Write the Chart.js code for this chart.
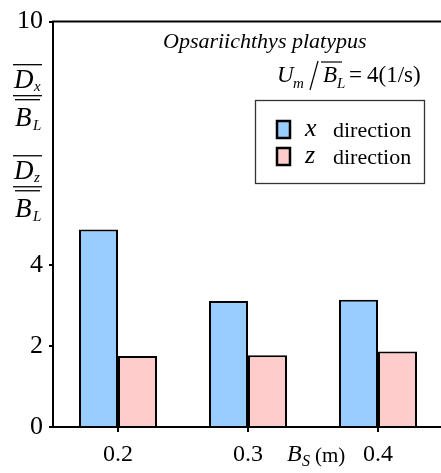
<!DOCTYPE html>
<html>
<head>
<meta charset="utf-8">
<script src="https://cdn.jsdelivr.net/npm/chart.js@4.4.0/dist/chart.umd.min.js"></script>
<style>
    html, body { margin: 0; padding: 0; background: #fff; overflow: hidden; }
    #wrap { width: 441px; height: 473px; overflow: hidden; }
</style>
</head>
<body>
<div id="wrap"><canvas id="grafico" width="443" height="473"></canvas></div>
<script>

// Datos
const categorias = ["0.2", "0.3", "0.4"];
const valoresX = [4.87, 3.11, 3.14];
const valoresZ = [1.75, 1.77, 1.86];
const etiquetasSerie = ["x", "z"];
const coloresSerie = ["#99ccff", "#ffcccc"];
const ticksY = [0, 2, 4, 10];   // 6 y 8 se sustituyen por las fracciones
const subFracciones = ["x", "z"];
const titulo = "Opsariichthys platypus";

const SERIF = '"Liberation Serif", "Times New Roman", serif';

function linea(ctx, x1, y1, x2, y2, ancho) {
    ctx.lineWidth = ancho;
    ctx.beginPath();
    ctx.moveTo(x1, y1);
    ctx.lineTo(x2, y2);
    ctx.stroke();
}

// D_sub sobre B_L, con barras encima
function fraccion(ctx, barY, sub) {
    ctx.font = "italic 27px " + SERIF;
    ctx.fillText("D", 14, barY - 8);
    ctx.font = "italic 15px " + SERIF;
    ctx.fillText(sub, 34, barY - 5);
    linea(ctx, 13, barY - 31, 42, barY - 31, 1.3);
    linea(ctx, 13, barY, 42, barY, 1.3);
    linea(ctx, 15, barY + 4, 40, barY + 4, 1.3);
    ctx.font = "italic 27px " + SERIF;
    ctx.fillText("B", 15, barY + 30);
    ctx.font = "italic 15px " + SERIF;
    ctx.fillText("L", 33, barY + 34);
}

const anotaciones = {
    id: "anotaciones",
    afterDraw(chart) {
        const ctx = chart.ctx;
        const area = chart.chartArea;
        const y = chart.scales.y;
        ctx.save();
        ctx.fillStyle = "#000";
        ctx.strokeStyle = "#000";
        ctx.textAlign = "left";
        ctx.textBaseline = "alphabetic";

        // borde superior
        linea(ctx, area.left - 1, area.top, chart.width, area.top, 2);

        // etiquetas del eje y en lugar de 8 y 6
        fraccion(ctx, y.getPixelForValue(8) - 7, subFracciones[0]);
        fraccion(ctx, y.getPixelForValue(6) + 3, subFracciones[1]);

        // titulo
        ctx.font = "italic 22px " + SERIF;
        ctx.fillText(titulo, 163, 48);

        // U_m / B_L = 4(1/s)
        ctx.font = "italic 23px " + SERIF;
        ctx.fillText("U", 277, 82);
        ctx.font = "italic 15px " + SERIF;
        ctx.fillText("m", 293, 88);
        linea(ctx, 318, 61, 310, 90, 1.2);
        linea(ctx, 321, 62, 342, 62, 1.2);
        ctx.font = "italic 23px " + SERIF;
        ctx.fillText("B", 323, 82);
        ctx.font = "italic 15px " + SERIF;
        ctx.fillText("L", 337, 88);
        ctx.font = "23px " + SERIF;
        ctx.fillText("=", 349, 82);
        ctx.fillText("4(1/s)", 367, 82);

        // leyenda
        ctx.strokeStyle = "#333";
        ctx.lineWidth = 1.3;
        ctx.strokeRect(255.5, 100.5, 169, 83);
        ctx.strokeStyle = "#000";
        chart.data.datasets.forEach((ds, i) => {
            const top = 121 + i * 27;
            ctx.fillStyle = ds.backgroundColor;
            ctx.fillRect(277, top, 13, 17);
            ctx.lineWidth = 2.5;
            ctx.strokeRect(277, top, 13, 17);
            ctx.fillStyle = "#000";
            ctx.font = "italic 26px " + SERIF;
            ctx.fillText(etiquetasSerie[i], 305, top + 15);
            ctx.font = "22px " + SERIF;
            ctx.fillText("direction", 333, top + 16);
        });

        // titulo del eje x
        ctx.font = "italic 24px " + SERIF;
        ctx.fillText("B", 287, 461);
        ctx.font = "italic 16px " + SERIF;
        ctx.fillText("S", 302, 466);
        ctx.font = "21px " + SERIF;
        ctx.fillText("(m)", 315, 462);

        ctx.restore();
    }
};

new Chart(document.getElementById("grafico"), {
    type: "bar",
    data: {
        labels: categorias,
        datasets: [
            {
                label: etiquetasSerie[0],
                data: valoresX,
                backgroundColor: coloresSerie[0],
                borderColor: "#000",
                borderWidth: 2
            },
            {
                label: etiquetasSerie[1],
                data: valoresZ,
                backgroundColor: coloresSerie[1],
                borderColor: "#000",
                borderWidth: 2
            }
        ]
    },
    options: {
        responsive: false,
        animation: false,
        devicePixelRatio: 1,
        layout: { padding: { top: 20, right: 0, left: 0, bottom: 0 } },
        datasets: {
            bar: { categoryPercentage: 0.6, barPercentage: 1.0 }
        },
        plugins: {
            legend: { display: false },
            tooltip: { enabled: false }
        },
        scales: {
            x: {
                offset: true,
                grid: {
                    offset: false,
                    drawOnChartArea: false,
                    tickLength: 5,
                    lineWidth: 2,
                    color: "#000"
                },
                border: { display: true, color: "#000", width: 2 },
                ticks: {
                    color: "#000",
                    font: { family: SERIF, size: 24 },
                    padding: 8,
                    maxRotation: 0
                },
                afterFit: s => { s.height = 46; }
            },
            y: {
                min: 0,
                max: 10,
                grid: {
                    drawOnChartArea: false,
                    tickLength: 4,
                    lineWidth: 2,
                    color: "#000",
                    tickColor: c => ticksY.includes(c.tick.value) ? "#000" : "rgba(0,0,0,0)"
                },
                border: { display: true, color: "#000", width: 2 },
                ticks: {
                    stepSize: 2,
                    color: "#000",
                    padding: 6,
                    font: { family: SERIF, size: 26 },
                    callback: v => ticksY.includes(v) ? v : ""
                },
                afterFit: s => { s.width = 53; }
            }
        }
    },
    plugins: [anotaciones]
});

</script>
</body>
</html>
